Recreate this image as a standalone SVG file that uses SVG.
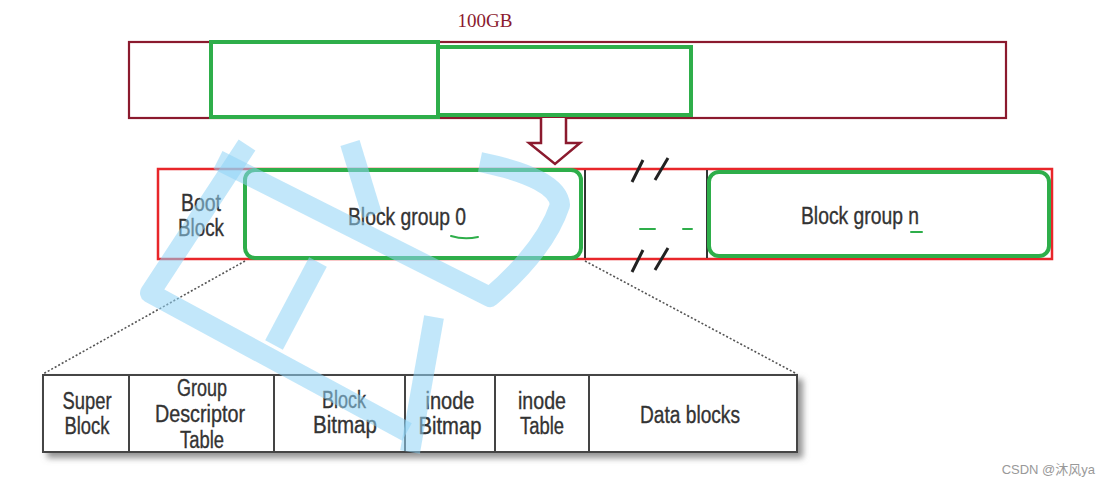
<svg xmlns="http://www.w3.org/2000/svg" width="1109" height="487" viewBox="0 0 1109 487">
<style>
.maroon{fill:none;stroke:#8b1a2e;stroke-width:2.2}
.green{fill:none;stroke:#2eae4a;stroke-width:4}
.red{fill:none;stroke:#e8262a;stroke-width:2.5}
.blk{stroke:#333;stroke-width:2}
.t{font-family:"Liberation Sans Narrow","Liberation Sans",Arial,sans-serif;font-size:23px;fill:#333;stroke:#333;stroke-width:0.35;text-anchor:middle}
.dot{fill:none;stroke:#555;stroke-width:1.6;stroke-dasharray:2 2}
.wm{fill:none;stroke:#8fd4f5;stroke-width:20;stroke-opacity:0.55;stroke-linejoin:round;stroke-linecap:butt}
.gmark{fill:none;stroke:#2eae4a;stroke-width:2;stroke-linecap:round}
</style>
<defs>
<filter id="sh" x="-5%" y="-20%" width="115%" height="150%">
<feDropShadow dx="5" dy="5" stdDeviation="3" flood-color="#777" flood-opacity="0.8"/>
</filter>
</defs>
<rect width="1109" height="487" fill="#fff"/>

<g id="disk">
<text x="485" y="27" font-family="Liberation Serif,serif" font-size="19" fill="#8b1a2e" text-anchor="middle">100GB</text>
<rect class="maroon" x="129" y="42" width="877" height="76"/>
<rect class="green" x="211" y="42" width="227" height="75"/>
<rect class="green" x="438" y="47" width="253" height="68"/>
</g>

<g id="connectors">
<path d="M541,118 V143 H529 L555,164 L580,143 H566 V118" fill="#fff" stroke="#8b1a2e" stroke-width="2.5"/>
<path class="dot" d="M245,261 L43,374"/>
<path class="dot" d="M585,261 L797,374"/>
</g>

<g id="partition">
<rect class="red" x="158" y="169" width="894" height="90" fill="#fff"/>
<line class="blk" x1="585" y1="170" x2="585" y2="258"/>
<line class="blk" x1="707" y1="170" x2="707" y2="258"/>
<g id="boot-block">
<text class="t" x="201" y="211" textLength="40" lengthAdjust="spacingAndGlyphs">Boot</text>
<text class="t" x="201" y="236" textLength="46" lengthAdjust="spacingAndGlyphs">Block</text>
</g>
<g id="block-group-0">
<rect class="green" x="245" y="170" width="336" height="88" rx="10"/>
<text class="t" x="407" y="225" textLength="118" lengthAdjust="spacingAndGlyphs">Block group 0</text>
<path class="gmark" d="M451,236 Q464,240 478,237"/>
</g>
<g id="gap">
<path d="M632,182 L643,160 M655,180 L668,158 M632,272 L643,250 M655,270 L668,248" stroke="#222" stroke-width="3" fill="none"/>
<path d="M640,229 H655 M683,229 H692" class="gmark"/>
</g>
<g id="block-group-n">
<rect class="green" x="709" y="172" width="340" height="84" rx="10"/>
<text class="t" x="860" y="224" textLength="118" lengthAdjust="spacingAndGlyphs">Block group n</text>
<path class="gmark" d="M911,232 H922"/>
</g>
</g>

<g id="block-group-detail">
<rect x="43" y="375" width="754" height="77" fill="#fff" stroke="#444" stroke-width="2" filter="url(#sh)"/>
<path d="M129,375 V452 M274,375 V452 M405,375 V452 M495,375 V452 M589,375 V452" stroke="#444" stroke-width="2"/>
<g id="super-block">
<text class="t" x="87" y="409" textLength="49" lengthAdjust="spacingAndGlyphs">Super</text>
<text class="t" x="87" y="434" textLength="45" lengthAdjust="spacingAndGlyphs">Block</text>
</g>
<g id="gdt">
<text class="t" x="202" y="396" textLength="50" lengthAdjust="spacingAndGlyphs">Group</text>
<text class="t" x="200" y="422" textLength="90" lengthAdjust="spacingAndGlyphs">Descriptor</text>
<text class="t" x="202" y="448" textLength="44" lengthAdjust="spacingAndGlyphs">Table</text>
</g>
<g id="block-bitmap">
<text class="t" x="344" y="408" textLength="44" lengthAdjust="spacingAndGlyphs">Block</text>
<text class="t" x="345" y="433" textLength="64" lengthAdjust="spacingAndGlyphs">Bitmap</text>
</g>
<g id="inode-bitmap">
<text class="t" x="450" y="409" textLength="49" lengthAdjust="spacingAndGlyphs">inode</text>
<text class="t" x="450" y="434" textLength="63" lengthAdjust="spacingAndGlyphs">Bitmap</text>
</g>
<g id="inode-table">
<text class="t" x="542" y="409" textLength="48" lengthAdjust="spacingAndGlyphs">inode</text>
<text class="t" x="542" y="434" textLength="44" lengthAdjust="spacingAndGlyphs">Table</text>
</g>
<g id="data-blocks">
<text class="t" x="690" y="423" textLength="100" lengthAdjust="spacingAndGlyphs">Data blocks</text>
</g>
</g>

<g id="watermark">
<path class="wm" d="M247,145 L150,293 L407,432"/>
<path class="wm" d="M218,160 L490,297 Q545,250 560,205 Q558,178 480,162"/>
<path class="wm" d="M350,143 L372,215"/>
<path class="wm" d="M318,262 L274,345"/>
<path class="wm" d="M434,317 L410,452"/>
</g>

<text x="1095" y="474" font-family="Liberation Sans,'Noto Sans CJK SC',sans-serif" font-size="13" fill="#999" text-anchor="end">CSDN @沐风ya</text>
</svg>
